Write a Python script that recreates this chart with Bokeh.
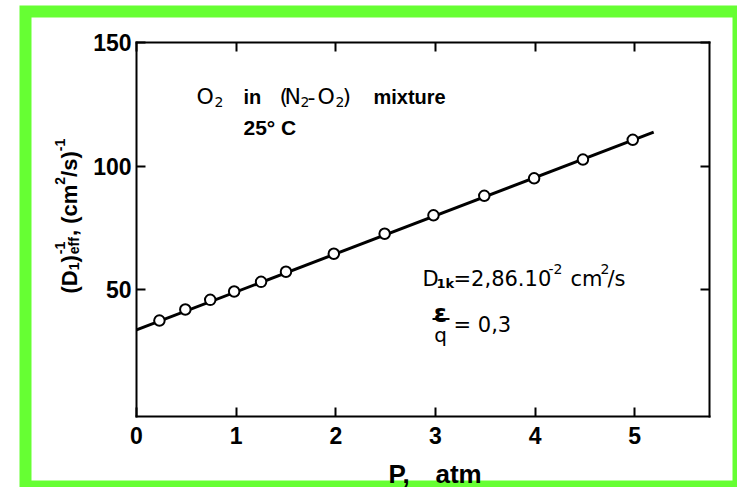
import math
from bokeh.plotting import figure
from bokeh.models import LinearAxis, FixedTicker, Label, BoxAnnotation, Range1d
from bokeh.embed import file_html
from bokeh.resources import INLINE

# ---- data ----
pressure_atm = [0.23, 0.49, 0.74, 0.98, 1.25, 1.50, 1.98, 2.49, 2.98, 3.49, 3.99, 4.48, 4.98]
inv_diffusivity = [37.4, 41.9, 45.8, 49.2, 53.1, 57.2, 64.5, 72.6, 80.1, 88.0, 95.1, 102.7, 110.7]
fit_pressure = [0.0, 5.19]
fit_inv_diffusivity = [33.6, 113.8]
x_ticks = [0, 1, 2, 3, 4, 5]
y_ticks = [50, 100, 150]
x_box = (0.0, 5.75)      # extent of the drawn axes box
y_box = (-1.5, 150.3)

# ---- layout (page pixels) ----
W, H = 737, 487
BOX_L, BOX_R, BOX_T, BOX_B = 136.0, 709.0, 41.7, 416.0
GREEN = "#66ff33"

kx = (x_box[1] - x_box[0]) / (BOX_R - BOX_L)
ky = (y_box[1] - y_box[0]) / (BOX_B - BOX_T)
x_full = (x_box[0] - BOX_L * kx, x_box[1] + (W - BOX_R) * kx)
y_full = (y_box[0] - (H - BOX_B) * ky, y_box[1] + BOX_T * ky)

p = figure(width=W, height=H, output_backend="svg", toolbar_location=None,
           x_range=Range1d(*x_full), y_range=Range1d(*y_full),
           min_border=0, min_border_left=0, min_border_right=0,
           min_border_top=0, min_border_bottom=0,
           x_axis_location=None, y_axis_location=None)
p.grid.visible = False
p.background_fill_color = "white"
p.border_fill_color = "white"
p.outline_line_color = None


def make_axis(ticks, bounds, loc, show_labels):
    ax = LinearAxis(ticker=FixedTicker(ticks=ticks), bounds=bounds, fixed_location=loc)
    ax.axis_line_width = 2
    ax.axis_line_color = "black"
    ax.axis_line_cap = "square"
    ax.major_tick_line_width = 2
    ax.major_tick_line_color = "black"
    ax.major_tick_in = 9
    ax.major_tick_out = 0
    ax.minor_tick_line_color = None
    ax.major_label_text_font = "Liberation Sans"
    ax.major_label_text_font_style = "bold"
    ax.major_label_text_font_size = "23px"
    ax.major_label_text_color = "black"
    if not show_labels:
        ax.major_label_overrides = {t: "" for t in ticks}
    return ax


bottom = make_axis(x_ticks, x_box, y_box[0], True)
bottom.major_label_standoff = 10
left = make_axis(y_ticks, y_box, x_box[0], True)
left.major_label_standoff = 5
top = make_axis(x_ticks, x_box, y_box[1], False)
right = make_axis(y_ticks, y_box, x_box[1], False)
p.add_layout(bottom, "below")
p.add_layout(left, "left")
p.add_layout(top, "above")
p.add_layout(right, "right")


# page coords -> screen units (from frame bottom-left)
def sx(px):
    return px

def sy(py):
    return H - py


def box(l, r, t, b, color, level):
    return BoxAnnotation(left=sx(l), right=sx(r), top=sy(t), bottom=sy(b),
                         left_units="screen", right_units="screen",
                         top_units="screen", bottom_units="screen",
                         fill_color=color, fill_alpha=1.0, line_color=None, level=level)


# green picture frame
p.add_layout(box(19, 760, 5, 510, GREEN, "underlay"))
p.add_layout(box(31, 732, 17, 480, "white", "underlay"))

# data
p.line(fit_pressure, fit_inv_diffusivity, line_color="black", line_width=3)
p.scatter(pressure_atm, inv_diffusivity, size=10.5, marker="circle",
          fill_color="white", line_color="black", line_width=2)


def put(text, px, py, size, style="bold", font="Liberation Sans", angle=0.0, align="left"):
    p.add_layout(Label(x=sx(px), y=sy(py), x_units="screen", y_units="screen", text=text,
                       text_font=font, text_font_size=f"{size}px", text_font_style=style,
                       text_color="black", angle=angle, text_align=align,
                       text_baseline="alphabetic"))


# x-axis title
put("P,", 388, 473, 26)
put("atm", 435, 473, 26)

# y-axis title, rotated, built from pieces
AW = {"(": .333, ")": .333, "D": .722, "1": .556, "2": .556, "-": .333, "e": .556,
      "f": .333, ",": .278, " ": .278, "c": .556, "m": .889, "/": .278, "s": .556}

def tw(s, size):
    return sum(AW.get(ch, .556) for ch in s) * size

M, S = 22, 14
base_x, sub_x, sup_x = 69, 73, 59
ang = math.pi / 2
cur = 293.0
put("(D", base_x, cur, M, angle=ang); cur -= tw("(D", M)
put("1", sub_x, cur, S, angle=ang); cur -= tw("1", S)
put(")", base_x, cur, M, angle=ang); cur -= tw(")", M) + 1
put("-1", sup_x, cur, S, angle=ang)
put("eff", sub_x, cur, S, angle=ang); cur -= tw("eff", S) + 1
put(", (cm", base_x, cur, M, angle=ang); cur -= tw(", (cm", M)
put("2", sup_x, cur, S, angle=ang); cur -= tw("2", S)
put("/s)", base_x, cur, M, angle=ang); cur -= tw("/s)", M)
put("-1", sup_x, cur, S, angle=ang)

# annotation: O2 in (N2-O2) mixture / 25 C
DJ = "DejaVu Sans"
put("O", 196, 96, 22, style="normal", font=DJ)
put("2", 214, 101, 14, style="normal", font=DJ)
put("in", 243, 96, 20)
put("(", 279, 96, 22, style="normal", font=DJ)
put("N", 284, 96, 22, style="normal", font=DJ)
put("2", 300, 101, 14, style="normal", font=DJ)
put("-", 307, 96, 22, style="normal", font=DJ)
put("O", 317, 96, 22, style="normal", font=DJ)
put("2", 335, 101, 14, style="normal", font=DJ)
put(")", 342, 96, 22, style="normal", font=DJ)
put("mixture", 373, 96, 20)
put("25° C", 243, 127, 21)

# annotation: D1k = 2,86.10^-2 cm2/s
put("D", 422, 278, 21, style="normal", font=DJ)
put("1k", 436, 283, 13, style="bold", font=DJ)
put("=2,86.10", 453, 278, 21, style="normal", font=DJ)
put("-2", 548, 268, 14, style="normal", font=DJ)
put("cm", 570, 278, 21, style="normal", font=DJ)
put("2", 600, 268, 14, style="normal", font=DJ)
put("/s", 607, 278, 21, style="normal", font=DJ)

# epsilon / q = 0,3
put("ε", 440, 313, 24, style="bold", font=DJ, align="center")
p.add_layout(box(432, 449, 317.5, 319.5, "black", "annotation"))
put("q", 440, 334, 20, style="normal", font=DJ, align="center")
put("= 0,3", 453, 324, 21, style="normal", font=DJ)

open("out.html", "w").write(file_html(p, INLINE))
